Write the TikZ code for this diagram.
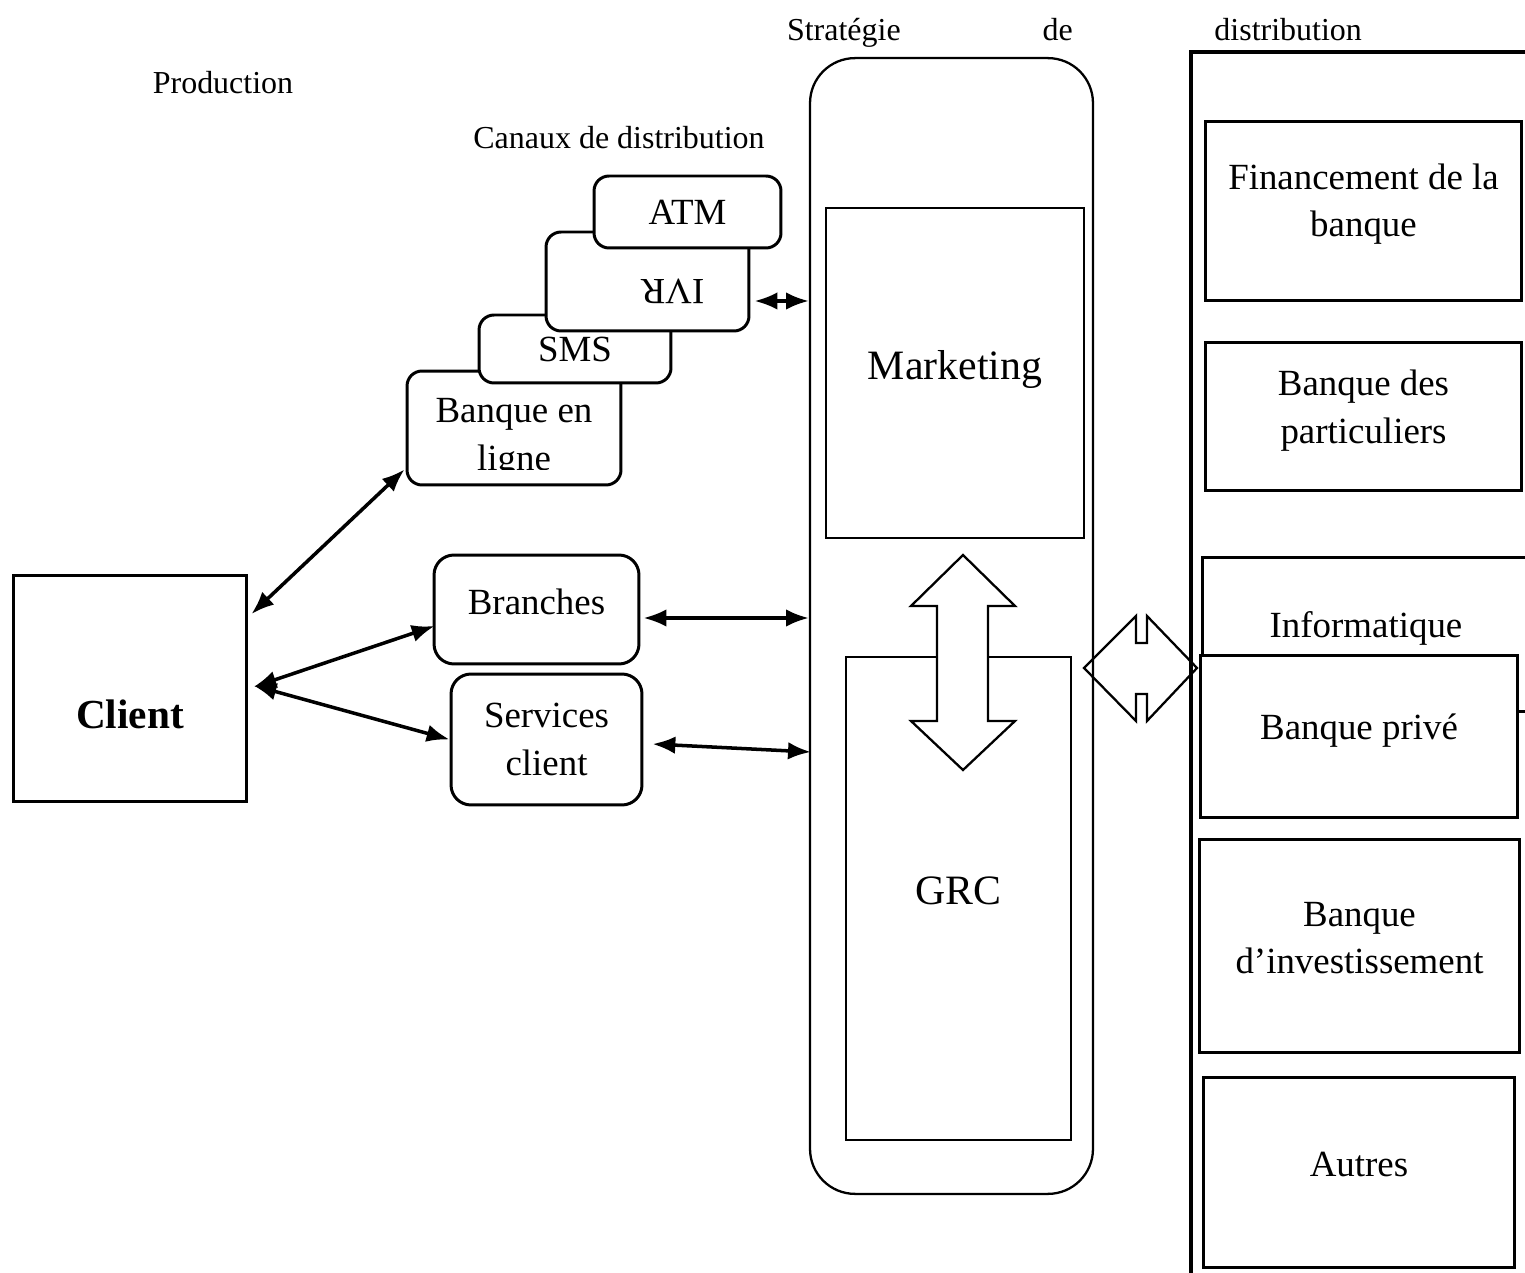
\documentclass[tikz,border=0pt]{standalone}
\usepackage{fontspec}
\setmainfont{Liberation Serif}
\usepackage{graphicx}
\usetikzlibrary{arrows.meta,positioning}

\begin{document}
\begin{tikzpicture}[x=0.02cm,y=-0.02cm,
	every node/.style={inner sep=0pt},
	box/.style={draw, line width=1.7pt, fill=white, font=\fontsize{21}{27}\selectfont, align=center},
	txt/.style={font=\fontsize{21}{27}\selectfont, align=center, yshift=0.14cm},
	chan/.style={box, rounded corners=0.3cm},
	lane/.style={draw, line width=1.3pt, fill=white},
	lbl/.style={font=\fontsize{18.2}{22}\selectfont},
	big/.style={font=\fontsize{23.8}{28}\selectfont},
	dbl/.style={{Latex[length=13pt,width=10pt]}-{Latex[length=13pt,width=10pt]}, line width=2pt}]
		\useasboundingbox (0,0) rectangle (1525,1273);
		\node (prod) [lbl] at (223,83) {Production};
		\node (can) [lbl] at (619,138) {Canaux de distribution};
		\node (strat) [lbl] at (1074.5,33) {\makebox[11.5cm]{Stratégie\hfill de\hfill distribution}};

		\node (col) [lane, rounded corners=0.9cm, minimum width=5.66cm, minimum height=22.72cm] at (951.5,626) {};
		\node (mk) [lane, minimum width=5.16cm, minimum height=6.6cm, label={[big, yshift=0.06cm]center:Marketing}] at (955,373) {};
		\node (grc) [lane, minimum width=4.5cm, minimum height=9.66cm, label={[big, yshift=0.16cm]center:GRC}] at (958.5,898.5) {};
		\draw[line width=1.3pt, fill=white] (963,555) -- (1015,606) -- (988,606) -- (988,721) -- (1015,721) -- (963,770) -- (911,721) -- (937,721) -- (937,606) -- (911,606) -- cycle;
		\draw[line width=1.3pt] (1084,668) -- (1136,616) -- (1136,643) -- (1147,643) -- (1147,616) -- (1197,668) -- (1147,721) -- (1147,694) -- (1136,694) -- (1136,721) -- cycle;

		\draw[line width=1.8pt] (1191,1280) -- (1191,52) -- (1530,52);
		\node (fin) [box, minimum width=6.34cm, minimum height=3.6cm, label={[txt]center:Financement de la\\banque}] at (1363.5,211) {};
		\node (part) [box, minimum width=6.34cm, minimum height=2.98cm, label={[txt, yshift=-0.02cm]center:Banque des\\particuliers}] at (1363.5,416.5) {};
		\node (info) [box, minimum width=6.56cm, minimum height=3.1cm, label={[txt, yshift=-0.02cm]center:Informatique}] at (1366,634.5) {};
		\node (priv) [box, minimum width=6.36cm, minimum height=3.24cm, label={[txt, yshift=-0.02cm]center:Banque privé}] at (1359,736.5) {};
		\node (inv) [box, minimum width=6.42cm, minimum height=4.28cm, label={[txt, yshift=0.02cm]center:Banque\\d’investissement}] at (1359.5,946) {};
		\node (aut) [box, minimum width=6.24cm, minimum height=3.82cm, label={[txt, yshift=0.02cm]center:Autres}] at (1359,1172.5) {};

		\node (cl) [box, font=\bfseries\fontsize{23.5}{28}\selectfont, text height=1.6cm, text depth=0pt, minimum width=4.68cm, minimum height=4.54cm] at (130,688.5) {Client};
		\node (bl) [chan, minimum width=4.28cm, minimum height=2.28cm] at (514,428) {};
		\begin{scope}
		\clip (bl.north west) rectangle ([shift={(0,-17)}]bl.south east);
		\node (blt) [box, draw=none, fill=none] at (514,438.5) {Banque en\\ligne};
		\end{scope}
		\node (sms) [chan, minimum width=3.84cm, minimum height=1.36cm] at (575,349) {SMS};
		\node (ivr) [chan, minimum width=4.06cm, minimum height=1.98cm, label={[font=\fontsize{21}{27}\selectfont, xshift=0.5cm, yshift=-0.19cm]center:\rotatebox{180}{IVR}}] at (647.5,281.5) {};
		\node (atm) [chan, minimum width=3.74cm, minimum height=1.44cm] at (687.5,212) {ATM};
		\node (br) [chan, rounded corners=0.4cm, minimum width=4.1cm, minimum height=2.18cm, label={[txt, yshift=0.02cm]center:Branches}] at (536.5,609.5) {};
		\node (sc) [chan, rounded corners=0.4cm, minimum width=3.82cm, minimum height=2.62cm] at (546.5,739.5) {Services\\client};

		\draw[dbl] ([shift={(3,-74.5)}]cl.east) -- ([shift={(-1,-17)}]bl.south west);
		\draw[dbl] ([shift={(5,-1.5)}]cl.east) -- ([shift={(2,16.5)}]br.west);
		\draw[dbl] ([shift={(5,-3)}]cl.east) -- (sc.west);
		\draw[dbl] ([shift={(3,8.5)}]br.east) -- ([shift={(0,8.5)}]br.east -| col.west);
		\draw[dbl] ([shift={(9,4.5)}]sc.east) -- ([shift={(2,12.5)}]sc.east -| col.west);
		\draw[dbl] ([shift={(4,19.5)}]ivr.east) -- ([shift={(0,19.5)}]ivr.east -| col.west);
\end{tikzpicture}
\end{document}
